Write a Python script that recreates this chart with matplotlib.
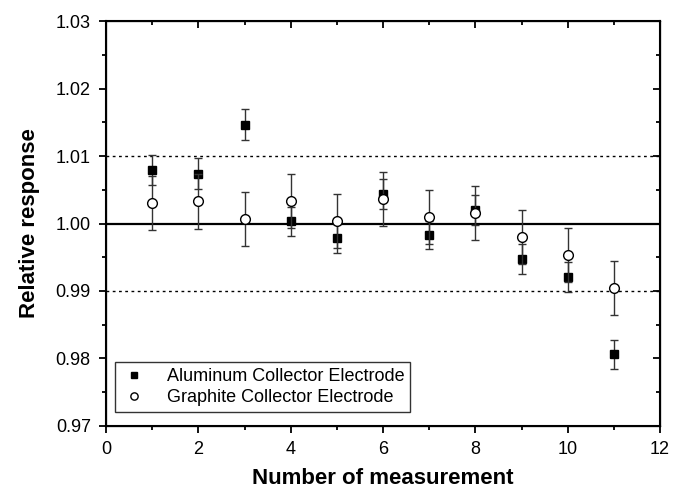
import matplotlib.pyplot as plt

plt.rcParams['font.family'] = ['Liberation Sans', 'DejaVu Sans']

# measurement number
measurement = [1, 2, 3, 4, 5, 6, 7, 8, 9, 10, 11]

# Aluminum collector electrode
al_resp = [1.0079, 1.0074, 1.0146, 1.0003, 0.9978, 1.0044, 0.9983, 1.0020, 0.9947, 0.9921, 0.9806]
al_err = [0.0022, 0.0023, 0.0023, 0.0022, 0.0022, 0.0022, 0.0021, 0.0022, 0.0022, 0.0022, 0.0022]

# Graphite collector electrode
gr_resp = [1.0031, 1.0033, 1.0006, 1.0034, 1.0003, 1.0036, 1.0009, 1.0015, 0.9980, 0.9953, 0.9904]
gr_err = [0.0040, 0.0041, 0.0040, 0.0040, 0.0040, 0.0040, 0.0040, 0.0040, 0.0040, 0.0040, 0.0040]

y_major = [0.97, 0.98, 0.99, 1.00, 1.01, 1.02, 1.03]
y_minor = [0.975, 0.985, 0.995, 1.005, 1.015, 1.025]

fig = plt.figure(figsize=(6.81, 4.91), dpi=100)
ax = fig.add_axes([0.1557, 0.1324, 0.8135, 0.8248])

# reference lines
ax.axhline(1.00, color='black', lw=1.6, zorder=1)
ax.axhline(1.01, color='black', lw=1.0, ls=(0, (2, 2.5)), zorder=1)
ax.axhline(0.99, color='black', lw=1.0, ls=(0, (2, 2.5)), zorder=1)

al = ax.errorbar(measurement, al_resp, yerr=al_err, fmt='s', color='black', ms=6,
                 ecolor='#333333', elinewidth=1.0, capsize=3, capthick=1.0, zorder=3)
gr = ax.errorbar(measurement, gr_resp, yerr=gr_err, fmt='o', mfc='white', mec='black',
                 mew=1.0, ms=7, ecolor='#333333', elinewidth=1.0, capsize=3,
                 capthick=1.0, zorder=4)

ax.set_xlim(0, 12)
ax.set_ylim(0.97, 1.03)
ax.set_xticks(range(0, 13, 2))
ax.set_xticks(range(1, 12, 2), minor=True)
ax.set_yticks(y_major)
ax.set_yticklabels(['%.2f' % v for v in y_major])
ax.set_yticks(y_minor, minor=True)

for s in ax.spines.values():
    s.set_linewidth(1.5)

ax.tick_params(which='both', direction='out', width=1.3, labelsize=13)
ax.tick_params(which='major', length=5)
ax.tick_params(which='minor', length=3)
ax.tick_params(axis='x', which='major', pad=6)
ax.tick_params(axis='y', which='major', pad=6)

# inward ticks on top and right
ax2 = ax.twinx()
ax2.set_ylim(ax.get_ylim())
ax2.set_yticks(y_major)
ax2.set_yticks(y_minor, minor=True)
ax2.tick_params(which='both', direction='in', width=1.3, labelright=False)
ax2.tick_params(which='major', length=5)
ax2.tick_params(which='minor', length=3)
ax3 = ax.twiny()
ax3.set_xlim(ax.get_xlim())
ax3.set_xticks(range(0, 13, 2))
ax3.set_xticks(range(1, 12, 2), minor=True)
ax3.tick_params(which='both', direction='in', width=1.3, labeltop=False)
ax3.tick_params(which='major', length=5)
ax3.tick_params(which='minor', length=3)

ax.set_xlabel('Number of measurement', fontsize=16, fontweight='bold', labelpad=7)
ax.set_ylabel('Relative response', fontsize=16, fontweight='bold', labelpad=11)

leg = ax.legend([al[0], gr[0]],
                ['Aluminum Collector Electrode', 'Graphite Collector Electrode'],
                loc='lower left', bbox_to_anchor=(0.016, 0.035), borderaxespad=0,
                fontsize=13, frameon=True, fancybox=False, edgecolor='black',
                markerscale=0.75, handlelength=1.5, handletextpad=1.1,
                borderpad=0.3, labelspacing=0.25)
leg.get_frame().set_linewidth(1.0)

fig.savefig('out.png', dpi=100)
